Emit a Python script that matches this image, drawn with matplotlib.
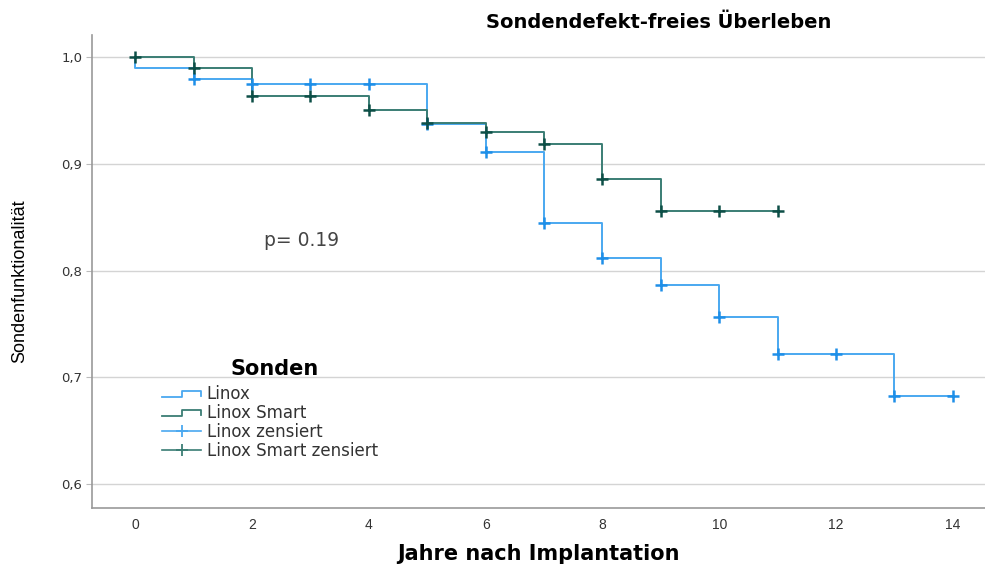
import matplotlib.pyplot as plt
from matplotlib.lines import Line2D
from matplotlib.legend_handler import HandlerBase

# Kaplan-Meier steps
linox_time = [0, 0, 1, 2, 5, 6, 7, 8, 9, 10, 11, 13, 14]
linox_surv = [1.0, 0.990, 0.980, 0.975, 0.937, 0.911, 0.845, 0.812, 0.787, 0.757, 0.722, 0.683, 0.683]
linox_cens_t = [1, 2, 3, 4, 5, 6, 7, 8, 9, 10, 11, 12, 13, 14]
linox_cens_s = [0.980, 0.975, 0.975, 0.975, 0.937, 0.911, 0.845, 0.812, 0.787, 0.757, 0.722, 0.722, 0.683, 0.683]

smart_time = [0, 1, 2, 4, 5, 6, 7, 8, 9, 11]
smart_surv = [1.0, 0.990, 0.964, 0.951, 0.938, 0.930, 0.919, 0.886, 0.856, 0.856]
smart_cens_t = [0, 1, 2, 3, 4, 5, 6, 7, 8, 9, 10, 11]
smart_cens_s = [1.0, 0.990, 0.964, 0.964, 0.951, 0.938, 0.930, 0.919, 0.886, 0.856, 0.856, 0.856]

x_ticks = [0, 2, 4, 6, 8, 10, 12, 14]
y_ticks = [0.6, 0.7, 0.8, 0.9, 1.0]
y_labels = ['0,6', '0,7', '0,8', '0,9', '1,0']

blue_line = '#4aa8f0'
blue_mark = '#1e8fe8'
teal_line = '#3a7d74'
teal_mark = '#0d4f47'

plt.rcParams['font.family'] = ['DejaVu Sans']
narrow = ['Liberation Sans', 'DejaVu Sans']


class StepHandler(HandlerBase):
    # little step symbol like the SPSS legend
    def create_artists(self, legend, orig, xd, yd, w, h, fontsize, trans):
        y0 = h * 0.2
        y1 = h * 0.75
        xs = [0, w * 0.5, w * 0.5, w, w]
        ys = [y0, y0, y1, y1, y0 + 0.1 * h]
        ln = Line2D(xs, ys, color=orig.get_color(), lw=1.3, transform=trans)
        return [ln]


fig = plt.figure(figsize=(9.85, 5.71), dpi=100)
ax = fig.add_axes([0.0934, 0.1103, 0.9066, 0.828])

for y in y_ticks:
    ax.axhline(y, color='#d4d4d4', lw=1, zorder=0)

l1, = ax.step(linox_time, linox_surv, where='post', color=blue_line, lw=1.4)
l2, = ax.step(smart_time, smart_surv, where='post', color=teal_line, lw=1.4)
c1, = ax.plot(linox_cens_t, linox_cens_s, ls='none', marker='+', ms=9, mew=1.8, color=blue_mark)
c2, = ax.plot(smart_cens_t, smart_cens_s, ls='none', marker='+', ms=9, mew=1.8, color=teal_mark)

ax.set_xlim(-0.74, 14.55)
ax.set_ylim(0.5777, 1.0206)
ax.set_xticks(x_ticks)
ax.set_yticks(y_ticks)
ax.set_yticklabels(y_labels)
ax.tick_params(axis='x', length=0, pad=7, labelsize=10, colors='#333333')
ax.tick_params(axis='y', length=4, width=0.8, color='#bbbbbb', pad=3, labelsize=9.5, labelcolor='#333333')
for lb in ax.get_xticklabels():
    lb.set_family(narrow)
for s in ['top', 'right']:
    ax.spines[s].set_visible(False)
for s in ['left', 'bottom']:
    ax.spines[s].set_color('#999999')
    ax.spines[s].set_linewidth(1.2)

ax.set_title('Sondendefekt-freies Überleben', fontsize=14, fontweight='bold', x=0.635, pad=5)
ax.set_xlabel('Jahre nach Implantation', fontsize=15, fontweight='bold', labelpad=9)
ax.set_ylabel('Sondenfunktionalität', fontsize=13, family=narrow)
ax.yaxis.set_label_coords(-0.071, 0.48)

ax.text(2.2, 0.823, 'p= 0.19', fontsize=13.5, color='#444444')

blue_cross = Line2D([], [], color=blue_line, marker='+', ms=9, mew=1.3, markeredgecolor=blue_line, lw=1.2)
teal_cross = Line2D([], [], color=teal_line, marker='+', ms=9, mew=1.3, markeredgecolor=teal_line, lw=1.2)
leg = ax.legend([l1, l2, blue_cross, teal_cross],
                ['Linox', 'Linox Smart', 'Linox zensiert', 'Linox Smart zensiert'],
                handler_map={l1: StepHandler(), l2: StepHandler()},
                title='Sonden', title_fontproperties={'weight': 'bold', 'size': 15},
                loc='upper left', bbox_to_anchor=(0.062, 0.335), frameon=False,
                fontsize=12, handlelength=2.3, handletextpad=0.35, labelspacing=0.05)
leg._legend_box.align = 'left'
leg.get_title().set_position((68, 6))
for t in leg.get_texts():
    t.set_color('#333333')

fig.savefig('out.png', dpi=100)
